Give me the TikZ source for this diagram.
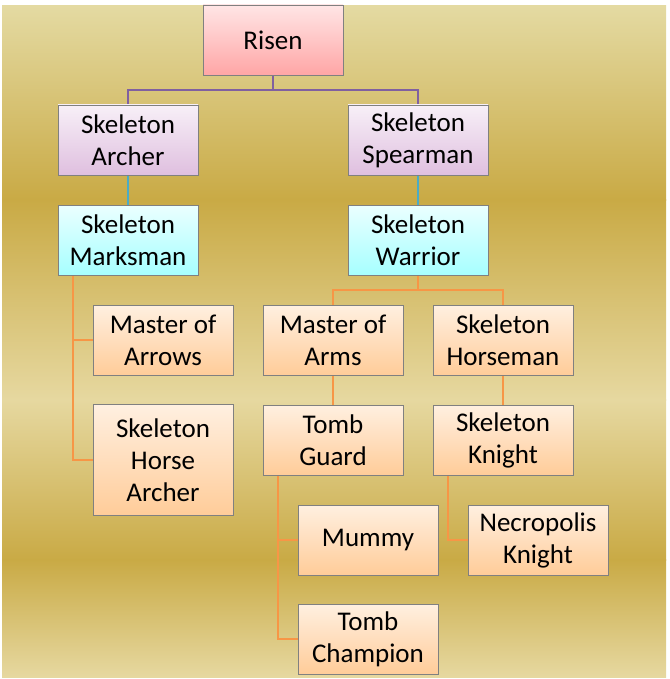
\documentclass[tikz,border=0pt]{standalone}
\usepackage{fontspec}
\setmainfont{Carlito}
\begin{document}
\begin{tikzpicture}[x=1pt,y=-1pt,
  box/.style={draw=black!50,line width=0.8pt,minimum width=140pt,align=center,inner sep=0pt,font=\fontsize{27}{32}\selectfont},
  pinkb/.style={box,top color=red!10,bottom color=red!35!white},
  lavb/.style={box,top color=violet!6,bottom color=violet!25},
  cyanb/.style={box,top color=cyan!8,bottom color=cyan!35},
  peachb/.style={box,top color=orange!12,bottom color=orange!40},
  lp/.style={draw={rgb,255:red,128;green,96;blue,160},line width=2.5pt},
  lc/.style={draw={rgb,255:red,75;green,172;blue,198},line width=2.5pt},
  lo/.style={draw={rgb,255:red,247;green,150;blue,70},line width=2.5pt}]
\useasboundingbox (0,0) rectangle (669,679);
\definecolor{g1}{HTML}{E4DAA2}\definecolor{g2}{HTML}{C9AA45}\definecolor{g3}{HTML}{E6D8A0}
\shade[top color=g1,bottom color=g2] (2,6) rectangle (666,200);
\shade[top color=g2,bottom color=g3] (2,199.5) rectangle (666,400);
\shade[top color=g3,bottom color=g2] (2,399.5) rectangle (666,560);
\shade[top color=g2,bottom color=g3] (2,559.5) rectangle (666,677);
\draw[lp] (273,75) -- (273,90) -| (128,105);
\draw[lp] (273,90) -| (418,105);
\draw[lc] (128,175) -- (128,205);
\draw[lc] (418,175) -- (418,205);
\draw[lo] (418,275) -- (418,290) -| (333,305);
\draw[lo] (418,290) -| (503,305);
\draw[lo] (333,375) -- (333,405);
\draw[lo] (503,375) -- (503,405);
\draw[lo] (73,275) |- (93,460);
\draw[lo] (73,340) -- (93,340);
\draw[lo] (278,475) |- (298,639);
\draw[lo] (278,540) -- (298,540);
\draw[lo] (448,475) |- (468,540);
\node[pinkb,minimum height=70pt] (risen) at (273,40) {Risen};
\node[lavb,minimum height=70pt] (sa) at (128,140) {Skeleton\\Archer};
\node[lavb,minimum height=70pt] (ss) at (418,140) {Skeleton\\Spearman};
\node[cyanb,minimum height=70pt] (sm) at (128,240) {Skeleton\\Marksman};
\node[cyanb,minimum height=70pt] (sw) at (418,240) {Skeleton\\Warrior};
\node[peachb,minimum height=70pt] (moa) at (163,340) {Master of\\Arrows};
\node[peachb,minimum height=111pt] (sha) at (163,460) {Skeleton\\Horse\\Archer};
\node[peachb,minimum height=70pt] (mar) at (333,340) {Master of\\Arms};
\node[peachb,minimum height=70pt] (sh) at (503,340) {Skeleton\\Horseman};
\node[peachb,minimum height=70pt] (tg) at (333,440) {Tomb\\Guard};
\node[peachb,minimum height=70pt] (sk) at (503,440) {Skeleton\\Knight};
\node[peachb,minimum height=70pt] (mu) at (368,540) {Mummy};
\node[peachb,minimum height=70pt] (nk) at (538,540) {Necropolis\\Knight};
\node[peachb,minimum height=70pt] (tc) at (368,639) {Tomb\\Champion};
\end{tikzpicture}
\end{document}
